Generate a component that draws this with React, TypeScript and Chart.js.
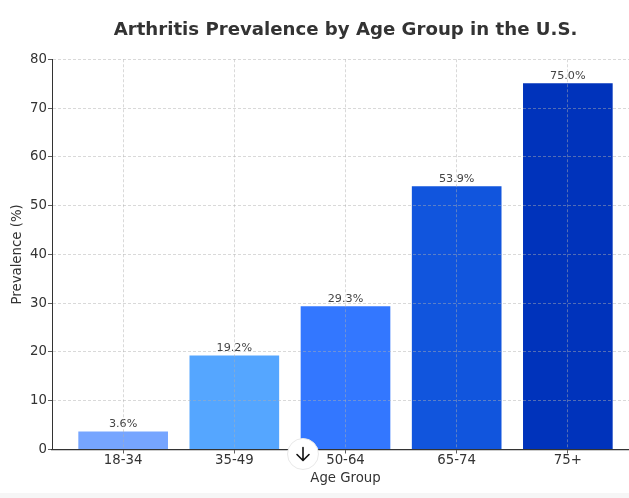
import React, { useEffect, useRef } from "react";
import { Chart, registerables } from "chart.js";

Chart.register(...registerables);

const categories = ["18-34", "35-49", "50-64", "65-74", "75+"];
const prevalence = [3.6, 19.2, 29.3, 53.9, 75.0];
const barColors = ["#76A5FF", "#55A6FF", "#3377FF", "#1155DD", "#0033BB"];
const titleText = "Arthritis Prevalence by Age Group in the U.S.";
const xTitle = "Age Group";
const yTitle = "Prevalence (%)";

const FONT = "'DejaVu Sans', sans-serif";

const labelPlugin = {
  id: "barValueLabels",
  afterDatasetsDraw(chart: any) {
    const { ctx } = chart;
    const meta = chart.getDatasetMeta(0);
    ctx.save();
    ctx.font = `11.2px ${FONT}`;
    ctx.fillStyle = "#444444";
    ctx.textAlign = "center";
    ctx.textBaseline = "alphabetic";
    meta.data.forEach((el: any, i: number) => {
      ctx.fillText(`${prevalence[i].toFixed(1)}%`, el.x, el.y - 4.5);
    });
    ctx.restore();
  },
};

export default function App() {
  const ref = useRef<HTMLCanvasElement>(null);
  useEffect(() => {
    const chart = new Chart(ref.current!, {
      type: "bar",
      data: {
        datasets: [
          {
            data: prevalence.map((y, x) => ({ x, y })),
            backgroundColor: barColors,
            barThickness: 89,
            borderWidth: 0,
          },
        ],
      },
      plugins: [labelPlugin],
      options: {
        animation: false,
        responsive: false,
        devicePixelRatio: 1,
        layout: { padding: { left: 0, right: 51, top: 0, bottom: 0 } },
        plugins: {
          legend: { display: false },
          tooltip: { enabled: false },
          title: {
            display: true,
            text: titleText,
            fullSize: false,
            color: "#333333",
            font: { family: FONT, size: 18.15, weight: "bold" },
            padding: { top: 19, bottom: 18.5 },
          },
        },
        scales: {
          x: {
            type: "linear",
            offset: false,
            min: -0.64,
            max: 4.64,
            afterBuildTicks: (s: any) => {
              s.ticks = categories.map((_, i) => ({ value: i }));
            },
            afterFit: (s: any) => {
              s.height = 48.5;
            },
            ticks: {
              autoSkip: false,
              maxRotation: 0,
              color: "#333333",
              padding: -1,
              font: { family: FONT, size: 13.3 },
              callback: (v: any) => categories[v],
            },
            title: {
              display: true,
              text: xTitle,
              color: "#333333",
              font: { family: FONT, size: 13.3 },
              padding: { top: 1, bottom: 11 },
            },
            border: { display: true, color: "#333333", width: 1.2, z: 2, dash: [3, 2] },
            grid: {
              offset: false,
              color: "rgba(175,175,175,0.6)",
              lineWidth: 0.8,
              z: 1,
              tickLength: 4,
              tickColor: "#333333",
              tickBorderDash: [],
            },
          },
          y: {
            min: 0,
            max: 80,
            afterFit: (s: any) => {
              s.width = 52;
            },
            ticks: {
              stepSize: 10,
              color: "#333333",
              padding: 1,
              font: { family: FONT, size: 13.3 },
            },
            title: {
              display: true,
              text: yTitle,
              color: "#333333",
              font: { family: FONT, size: 13.3 },
              padding: { top: 10, bottom: 1 },
            },
            border: { display: true, color: "#333333", width: 1, z: 2, dash: [3, 2] },
            grid: {
              color: "rgba(175,175,175,0.6)",
              lineWidth: 0.8,
              z: 1,
              tickLength: 4,
              tickColor: "#333333",
              tickBorderDash: [],
            },
          },
        },
      } as any,
    });
    return () => chart.destroy();
  }, []);

  return (
    <div style={{ position: "fixed", left: 0, top: 0, width: 629, height: 498, overflow: "hidden", background: "#fff" }}>
      <canvas ref={ref} width={690} height={498} style={{ display: "block", width: 690, height: 498 }} />
      <div style={{ position: "absolute", left: 0, right: 0, top: 493, height: 5, background: "#f6f6f6" }} />
      <div
        style={{
          position: "absolute",
          left: 286.5,
          top: 438,
          width: 32,
          height: 32,
          borderRadius: "50%",
          background: "#fff",
          border: "1px solid #e8e8e8",
          boxSizing: "border-box",
          display: "flex",
          alignItems: "center",
          justifyContent: "center",
        }}
      >
        <svg width="16" height="16" viewBox="0 0 16 16" fill="none" stroke="#111" strokeWidth="1.6" strokeLinecap="round" strokeLinejoin="round">
          <path d="M8 1.5V14M2 8.5L8 14.5L14 8.5" />
        </svg>
      </div>
    </div>
  );
}
